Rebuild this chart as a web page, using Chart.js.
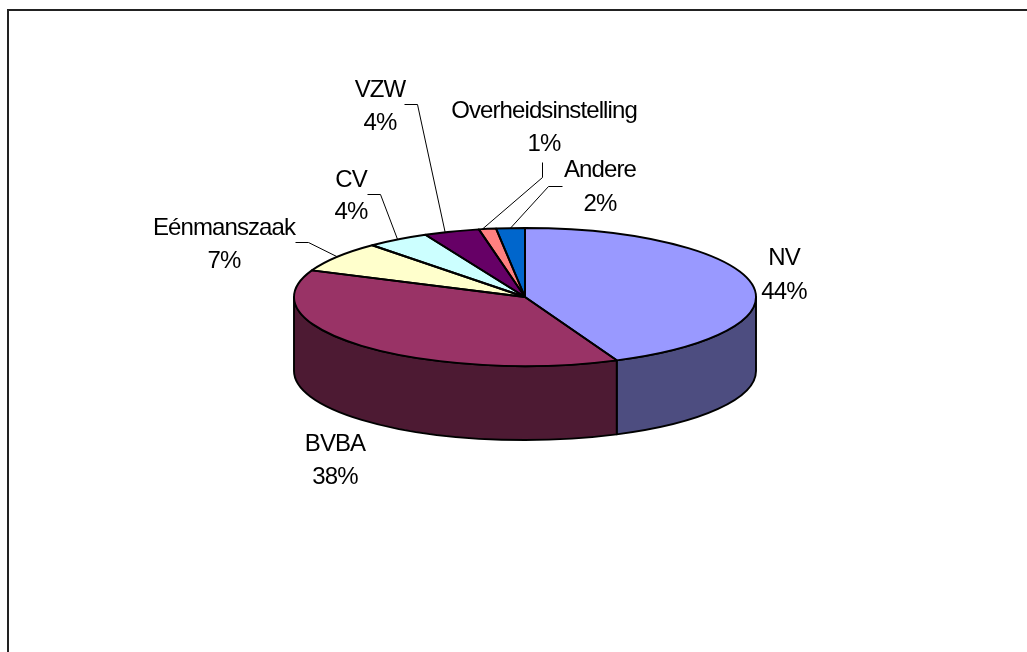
<!DOCTYPE html>
<html>
<head>
<meta charset="utf-8">
<style>
html,body{margin:0;padding:0;background:#fff;overflow:hidden}
#wrap{position:relative;width:1027px;height:652px}
canvas{display:block}
</style>
<script src="https://cdn.jsdelivr.net/npm/chart.js@4/dist/chart.umd.min.js"></script>
</head>
<body>
<div id="wrap"><canvas id="c" width="1027" height="652"></canvas></div>
<script>
const categories = ["NV", "BVBA", "Eénmanszaak", "CV", "VZW", "Overheidsinstelling", "Andere"];
const shares = [43.5, 37.8, 7.2, 4.4, 3.9, 1.2, 2.0];
const sliceColors = ["#9999FF", "#993366", "#FFFFCC", "#CCFFFF", "#660066", "#FF8080", "#0066CC"];

const SQUASH = 69 / 231, DEPTH = 74, OUTLINE = 1.9;
const FONT = '24px "Liberation Sans", Arial, sans-serif';

// label placement: centre x, first baseline, second baseline, leader elbow points, leader tip within the slice
const labelLayout = [
  {x: 784, b1: 265, b2: 299},
  {x: 335, b1: 451, b2: 484},
  {x: 224, b1: 235, b2: 268, tip: 0.5, leader: [[295, 242], [308, 242]]},
  {x: 351, b1: 187, b2: 219, tip: 0.5, leader: [[367, 194], [380, 194]]},
  {x: 380, b1: 97,  b2: 130, tip: 0.38, leader: [[404, 104], [417, 104]]},
  {x: 544, b1: 118, b2: 151, tip: 0.2, leader: [[542, 162], [542, 177]]},
  {x: 600, b1: 177, b2: 211, tip: 0.5, leader: [[562, 186], [548, 186]]}
];

function halve(hex) {
  const n = parseInt(hex.slice(1), 16);
  const f = v => Math.round(v / 2);
  return `rgb(${f(n >> 16 & 255)},${f(n >> 8 & 255)},${f(n & 255)})`;
}

const pie3d = {
  id: 'pie3d',
  beforeDatasetsDraw(chart) {
    const ctx = chart.ctx;
    const arcs = chart.getDatasetMeta(0).data;
    const {x: cx, y: cy, outerRadius: r} = arcs[0].getProps(['x', 'y', 'outerRadius'], true);
    const ry = r * SQUASH;
    // side wall: the part of each slice on the front half of the ellipse
    arcs.forEach((a, i) => {
      const p = a.getProps(['startAngle', 'endAngle'], true);
      const s = Math.max(p.startAngle, 0), e = Math.min(p.endAngle, Math.PI);
      if (e <= s) return;
      ctx.save();
      ctx.beginPath();
      ctx.ellipse(cx, cy, r, ry, 0, s, e);
      ctx.ellipse(cx, cy + DEPTH, r, ry, 0, e, s, true);
      ctx.closePath();
      ctx.fillStyle = halve(sliceColors[i]);
      ctx.fill();
      ctx.strokeStyle = '#000';
      ctx.lineWidth = OUTLINE;
      ctx.lineJoin = 'round';
      ctx.stroke();
      ctx.restore();
    });
    // flatten the library's arcs into the pie's top face
    ctx.save();
    ctx.translate(cx, cy);
    ctx.scale(1, SQUASH);
    ctx.translate(-cx, -cy);
  },
  afterDatasetsDraw(chart) {
    const ctx = chart.ctx;
    ctx.restore();
    chart.getDatasetMeta(0).data.forEach(a => {
      const p = a.getProps(['x', 'y', 'startAngle', 'endAngle', 'outerRadius'], true);
      ctx.save();
      ctx.beginPath();
      ctx.moveTo(p.x, p.y);
      ctx.ellipse(p.x, p.y, p.outerRadius, p.outerRadius * SQUASH, 0, p.startAngle, p.endAngle);
      ctx.closePath();
      ctx.strokeStyle = '#000';
      ctx.lineWidth = OUTLINE;
      ctx.lineJoin = 'round';
      ctx.stroke();
      ctx.restore();
    });
  },
  afterDraw(chart) {
    const ctx = chart.ctx;
    const arcs = chart.getDatasetMeta(0).data;
    ctx.save();
    ctx.font = FONT;
    ctx.letterSpacing = '-0.9px';
    ctx.textAlign = 'center';
    ctx.textBaseline = 'alphabetic';
    ctx.fillStyle = '#000';
    categories.forEach((name, i) => {
      const l = labelLayout[i];
      ctx.fillText(name, l.x, l.b1);
      ctx.fillText(Math.round(shares[i]) + '%', l.x, l.b2);
      if (l.leader) {
        const p = arcs[i].getProps(['x', 'y', 'startAngle', 'endAngle', 'outerRadius'], true);
        const at = p.startAngle + (p.endAngle - p.startAngle) * l.tip;
        ctx.beginPath();
        ctx.moveTo(l.leader[0][0] + .5, l.leader[0][1] + .5);
        ctx.lineTo(l.leader[1][0] + .5, l.leader[1][1] + .5);
        ctx.lineTo(p.x + p.outerRadius * Math.cos(at), p.y + p.outerRadius * SQUASH * Math.sin(at));
        ctx.strokeStyle = '#000';
        ctx.lineWidth = 1;
        ctx.stroke();
      }
    });
    ctx.restore();
  },
  beforeDraw(chart) {
    // outer frame, open past the right and bottom edges
    const ctx = chart.ctx;
    ctx.save();
    ctx.strokeStyle = '#222';
    ctx.lineWidth = 2;
    ctx.beginPath();
    ctx.moveTo(8, 652);
    ctx.lineTo(8, 10);
    ctx.lineTo(1027, 10);
    ctx.stroke();
    ctx.restore();
  }
};

new Chart(document.getElementById('c'), {
  type: 'pie',
  data: {
    labels: categories,
    datasets: [{
      data: shares,
      backgroundColor: sliceColors,
      borderWidth: 0,
      clip: false
    }]
  },
  options: {
    responsive: false,
    animation: false,
    layout: {padding: {left: 294, right: 271, top: 66, bottom: 124}},
    plugins: {legend: {display: false}, tooltip: {enabled: false}, title: {display: false}}
  },
  plugins: [pie3d]
});
</script>
</body>
</html>
